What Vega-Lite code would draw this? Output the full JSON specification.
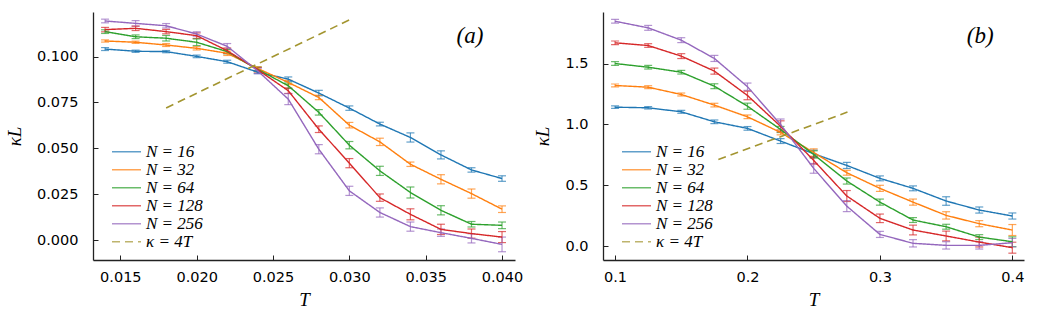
{
  "$schema": "https://vega.github.io/schema/vega-lite/v6.json",
  "padding": {"left": 5, "top": 12, "right": 2, "bottom": 5},
  "bounds": "flush",
  "spacing": 88,
  "config": {
    "view": {"stroke": null},
    "axis": {
      "grid": false,
      "domainColor": "#222222",
      "domainWidth": 1.3,
      "tickColor": "#222222",
      "tickSize": -5,
      "labelFont": "DejaVu Sans",
      "labelFontSize": 14.5,
      "labelColor": "#000000",
      "titleFont": "Liberation Serif",
      "titleFontStyle": "italic",
      "titleFontWeight": "normal",
      "titleFontSize": 19,
      "titleColor": "#000000"
    },
    "axisX": {"labelPadding": 15, "titlePadding": 7},
    "axisY": {"labelPadding": 20, "titlePadding": 12},
    "legend": {
      "orient": "none",
      "legendX": 18,
      "legendY": 131.5,
      "title": null,
      "padding": 0,
      "symbolType": "stroke",
      "symbolSize": 841,
      "symbolStrokeWidth": 1.5,
      "clipHeight": 16.3,
      "labelFont": "Liberation Serif",
      "labelFontStyle": "italic",
      "labelFontSize": 17,
      "labelColor": "#000000",
      "labelOffset": 4,
      "rowPadding": 0
    }
  },
  "resolve": {"scale": {"color": "independent", "strokeDash": "independent"}, "legend": {"color": "independent", "strokeDash": "independent"}},
  "datasets": {
    "a": [
      {"T": 0.014, "s": "N = 16", "k": 0.1041, "lo": 0.1033, "hi": 0.1049},
      {"T": 0.016, "s": "N = 16", "k": 0.1029, "lo": 0.1023, "hi": 0.1035},
      {"T": 0.018, "s": "N = 16", "k": 0.1027, "lo": 0.1021, "hi": 0.1033},
      {"T": 0.020, "s": "N = 16", "k": 0.1001, "lo": 0.0994, "hi": 0.1008},
      {"T": 0.022, "s": "N = 16", "k": 0.0972, "lo": 0.0964, "hi": 0.0980},
      {"T": 0.024, "s": "N = 16", "k": 0.0915, "lo": 0.0907, "hi": 0.0923},
      {"T": 0.026, "s": "N = 16", "k": 0.0877, "lo": 0.0865, "hi": 0.0889},
      {"T": 0.028, "s": "N = 16", "k": 0.0801, "lo": 0.0786, "hi": 0.0816},
      {"T": 0.030, "s": "N = 16", "k": 0.0719, "lo": 0.0707, "hi": 0.0731},
      {"T": 0.032, "s": "N = 16", "k": 0.0632, "lo": 0.0622, "hi": 0.0642},
      {"T": 0.034, "s": "N = 16", "k": 0.0559, "lo": 0.0534, "hi": 0.0584},
      {"T": 0.036, "s": "N = 16", "k": 0.0464, "lo": 0.0442, "hi": 0.0486},
      {"T": 0.038, "s": "N = 16", "k": 0.0382, "lo": 0.0370, "hi": 0.0394},
      {"T": 0.040, "s": "N = 16", "k": 0.0335, "lo": 0.0320, "hi": 0.0350},
      {"T": 0.014, "s": "N = 32", "k": 0.1085, "lo": 0.1079, "hi": 0.1091},
      {"T": 0.016, "s": "N = 32", "k": 0.1078, "lo": 0.1072, "hi": 0.1084},
      {"T": 0.018, "s": "N = 32", "k": 0.1063, "lo": 0.1055, "hi": 0.1071},
      {"T": 0.020, "s": "N = 32", "k": 0.1045, "lo": 0.1036, "hi": 0.1054},
      {"T": 0.022, "s": "N = 32", "k": 0.1018, "lo": 0.1006, "hi": 0.1030},
      {"T": 0.024, "s": "N = 32", "k": 0.0935, "lo": 0.0925, "hi": 0.0945},
      {"T": 0.026, "s": "N = 32", "k": 0.0859, "lo": 0.0847, "hi": 0.0871},
      {"T": 0.028, "s": "N = 32", "k": 0.0777, "lo": 0.0765, "hi": 0.0789},
      {"T": 0.030, "s": "N = 32", "k": 0.0626, "lo": 0.0611, "hi": 0.0641},
      {"T": 0.032, "s": "N = 32", "k": 0.0535, "lo": 0.0515, "hi": 0.0555},
      {"T": 0.034, "s": "N = 32", "k": 0.0413, "lo": 0.0401, "hi": 0.0425},
      {"T": 0.036, "s": "N = 32", "k": 0.0331, "lo": 0.0306, "hi": 0.0356},
      {"T": 0.038, "s": "N = 32", "k": 0.0253, "lo": 0.0228, "hi": 0.0278},
      {"T": 0.040, "s": "N = 32", "k": 0.0168, "lo": 0.0150, "hi": 0.0186},
      {"T": 0.014, "s": "N = 64", "k": 0.1136, "lo": 0.1126, "hi": 0.1146},
      {"T": 0.016, "s": "N = 64", "k": 0.1108, "lo": 0.1098, "hi": 0.1118},
      {"T": 0.018, "s": "N = 64", "k": 0.1100, "lo": 0.1085, "hi": 0.1115},
      {"T": 0.020, "s": "N = 64", "k": 0.1078, "lo": 0.1060, "hi": 0.1096},
      {"T": 0.022, "s": "N = 64", "k": 0.1027, "lo": 0.1015, "hi": 0.1039},
      {"T": 0.024, "s": "N = 64", "k": 0.0930, "lo": 0.0918, "hi": 0.0942},
      {"T": 0.026, "s": "N = 64", "k": 0.0841, "lo": 0.0826, "hi": 0.0856},
      {"T": 0.028, "s": "N = 64", "k": 0.0696, "lo": 0.0681, "hi": 0.0711},
      {"T": 0.030, "s": "N = 64", "k": 0.0517, "lo": 0.0497, "hi": 0.0537},
      {"T": 0.032, "s": "N = 64", "k": 0.0377, "lo": 0.0352, "hi": 0.0402},
      {"T": 0.034, "s": "N = 64", "k": 0.0259, "lo": 0.0229, "hi": 0.0289},
      {"T": 0.036, "s": "N = 64", "k": 0.0162, "lo": 0.0137, "hi": 0.0187},
      {"T": 0.038, "s": "N = 64", "k": 0.0086, "lo": 0.0071, "hi": 0.0101},
      {"T": 0.040, "s": "N = 64", "k": 0.0080, "lo": 0.0062, "hi": 0.0098},
      {"T": 0.014, "s": "N = 128", "k": 0.1147, "lo": 0.1135, "hi": 0.1159},
      {"T": 0.016, "s": "N = 128", "k": 0.1154, "lo": 0.1142, "hi": 0.1166},
      {"T": 0.018, "s": "N = 128", "k": 0.1136, "lo": 0.1124, "hi": 0.1148},
      {"T": 0.020, "s": "N = 128", "k": 0.1114, "lo": 0.1099, "hi": 0.1129},
      {"T": 0.022, "s": "N = 128", "k": 0.1032, "lo": 0.1017, "hi": 0.1047},
      {"T": 0.024, "s": "N = 128", "k": 0.0928, "lo": 0.0916, "hi": 0.0940},
      {"T": 0.026, "s": "N = 128", "k": 0.0814, "lo": 0.0799, "hi": 0.0829},
      {"T": 0.028, "s": "N = 128", "k": 0.0604, "lo": 0.0586, "hi": 0.0622},
      {"T": 0.030, "s": "N = 128", "k": 0.0419, "lo": 0.0394, "hi": 0.0444},
      {"T": 0.032, "s": "N = 128", "k": 0.0231, "lo": 0.0211, "hi": 0.0251},
      {"T": 0.034, "s": "N = 128", "k": 0.0140, "lo": 0.0110, "hi": 0.0170},
      {"T": 0.036, "s": "N = 128", "k": 0.0058, "lo": 0.0030, "hi": 0.0086},
      {"T": 0.038, "s": "N = 128", "k": 0.0035, "lo": 0.0010, "hi": 0.0060},
      {"T": 0.040, "s": "N = 128", "k": 0.0016, "lo": -0.0014, "hi": 0.0046},
      {"T": 0.014, "s": "N = 256", "k": 0.1194, "lo": 0.1184, "hi": 0.1204},
      {"T": 0.016, "s": "N = 256", "k": 0.1181, "lo": 0.1166, "hi": 0.1196},
      {"T": 0.018, "s": "N = 256", "k": 0.1168, "lo": 0.1156, "hi": 0.1180},
      {"T": 0.020, "s": "N = 256", "k": 0.1123, "lo": 0.1111, "hi": 0.1135},
      {"T": 0.022, "s": "N = 256", "k": 0.1056, "lo": 0.1041, "hi": 0.1071},
      {"T": 0.024, "s": "N = 256", "k": 0.0922, "lo": 0.0907, "hi": 0.0937},
      {"T": 0.026, "s": "N = 256", "k": 0.0768, "lo": 0.0738, "hi": 0.0798},
      {"T": 0.028, "s": "N = 256", "k": 0.0495, "lo": 0.0470, "hi": 0.0520},
      {"T": 0.030, "s": "N = 256", "k": 0.0268, "lo": 0.0243, "hi": 0.0293},
      {"T": 0.032, "s": "N = 256", "k": 0.0150, "lo": 0.0125, "hi": 0.0175},
      {"T": 0.034, "s": "N = 256", "k": 0.0073, "lo": 0.0048, "hi": 0.0098},
      {"T": 0.036, "s": "N = 256", "k": 0.0040, "lo": 0.0020, "hi": 0.0060},
      {"T": 0.038, "s": "N = 256", "k": 0.0009, "lo": -0.0016, "hi": 0.0034},
      {"T": 0.040, "s": "N = 256", "k": -0.0024, "lo": -0.0064, "hi": 0.0016}
    ],
    "b": [
      {"T": 0.100, "s": "N = 16", "k": 1.142, "lo": 1.132, "hi": 1.152},
      {"T": 0.125, "s": "N = 16", "k": 1.137, "lo": 1.127, "hi": 1.147},
      {"T": 0.150, "s": "N = 16", "k": 1.104, "lo": 1.092, "hi": 1.116},
      {"T": 0.175, "s": "N = 16", "k": 1.022, "lo": 1.007, "hi": 1.037},
      {"T": 0.200, "s": "N = 16", "k": 0.968, "lo": 0.953, "hi": 0.983},
      {"T": 0.225, "s": "N = 16", "k": 0.864, "lo": 0.844, "hi": 0.884},
      {"T": 0.250, "s": "N = 16", "k": 0.760, "lo": 0.730, "hi": 0.790},
      {"T": 0.275, "s": "N = 16", "k": 0.664, "lo": 0.639, "hi": 0.689},
      {"T": 0.300, "s": "N = 16", "k": 0.558, "lo": 0.538, "hi": 0.578},
      {"T": 0.325, "s": "N = 16", "k": 0.476, "lo": 0.456, "hi": 0.496},
      {"T": 0.350, "s": "N = 16", "k": 0.372, "lo": 0.337, "hi": 0.407},
      {"T": 0.375, "s": "N = 16", "k": 0.298, "lo": 0.273, "hi": 0.323},
      {"T": 0.400, "s": "N = 16", "k": 0.249, "lo": 0.224, "hi": 0.274},
      {"T": 0.100, "s": "N = 32", "k": 1.320, "lo": 1.308, "hi": 1.332},
      {"T": 0.125, "s": "N = 32", "k": 1.306, "lo": 1.294, "hi": 1.318},
      {"T": 0.150, "s": "N = 32", "k": 1.246, "lo": 1.234, "hi": 1.258},
      {"T": 0.175, "s": "N = 32", "k": 1.159, "lo": 1.144, "hi": 1.174},
      {"T": 0.200, "s": "N = 32", "k": 1.063, "lo": 1.048, "hi": 1.078},
      {"T": 0.225, "s": "N = 32", "k": 0.935, "lo": 0.915, "hi": 0.955},
      {"T": 0.250, "s": "N = 32", "k": 0.770, "lo": 0.740, "hi": 0.800},
      {"T": 0.275, "s": "N = 32", "k": 0.604, "lo": 0.584, "hi": 0.624},
      {"T": 0.300, "s": "N = 32", "k": 0.476, "lo": 0.451, "hi": 0.501},
      {"T": 0.325, "s": "N = 32", "k": 0.363, "lo": 0.338, "hi": 0.388},
      {"T": 0.350, "s": "N = 32", "k": 0.254, "lo": 0.224, "hi": 0.284},
      {"T": 0.375, "s": "N = 32", "k": 0.186, "lo": 0.161, "hi": 0.211},
      {"T": 0.400, "s": "N = 32", "k": 0.134, "lo": 0.089, "hi": 0.179},
      {"T": 0.100, "s": "N = 64", "k": 1.500, "lo": 1.485, "hi": 1.515},
      {"T": 0.125, "s": "N = 64", "k": 1.470, "lo": 1.455, "hi": 1.485},
      {"T": 0.150, "s": "N = 64", "k": 1.429, "lo": 1.414, "hi": 1.444},
      {"T": 0.175, "s": "N = 64", "k": 1.314, "lo": 1.294, "hi": 1.334},
      {"T": 0.200, "s": "N = 64", "k": 1.150, "lo": 1.125, "hi": 1.175},
      {"T": 0.225, "s": "N = 64", "k": 0.959, "lo": 0.934, "hi": 0.984},
      {"T": 0.250, "s": "N = 64", "k": 0.754, "lo": 0.724, "hi": 0.784},
      {"T": 0.275, "s": "N = 64", "k": 0.536, "lo": 0.511, "hi": 0.561},
      {"T": 0.300, "s": "N = 64", "k": 0.363, "lo": 0.338, "hi": 0.388},
      {"T": 0.325, "s": "N = 64", "k": 0.216, "lo": 0.196, "hi": 0.236},
      {"T": 0.350, "s": "N = 64", "k": 0.161, "lo": 0.141, "hi": 0.181},
      {"T": 0.375, "s": "N = 64", "k": 0.076, "lo": 0.056, "hi": 0.096},
      {"T": 0.400, "s": "N = 64", "k": 0.038, "lo": -0.002, "hi": 0.078},
      {"T": 0.100, "s": "N = 128", "k": 1.670, "lo": 1.655, "hi": 1.685},
      {"T": 0.125, "s": "N = 128", "k": 1.648, "lo": 1.633, "hi": 1.663},
      {"T": 0.150, "s": "N = 128", "k": 1.561, "lo": 1.541, "hi": 1.581},
      {"T": 0.175, "s": "N = 128", "k": 1.438, "lo": 1.413, "hi": 1.463},
      {"T": 0.200, "s": "N = 128", "k": 1.238, "lo": 1.203, "hi": 1.273},
      {"T": 0.225, "s": "N = 128", "k": 0.985, "lo": 0.940, "hi": 1.030},
      {"T": 0.250, "s": "N = 128", "k": 0.705, "lo": 0.675, "hi": 0.735},
      {"T": 0.275, "s": "N = 128", "k": 0.413, "lo": 0.368, "hi": 0.458},
      {"T": 0.300, "s": "N = 128", "k": 0.230, "lo": 0.195, "hi": 0.265},
      {"T": 0.325, "s": "N = 128", "k": 0.134, "lo": 0.094, "hi": 0.174},
      {"T": 0.350, "s": "N = 128", "k": 0.085, "lo": 0.045, "hi": 0.125},
      {"T": 0.375, "s": "N = 128", "k": 0.035, "lo": -0.005, "hi": 0.075},
      {"T": 0.400, "s": "N = 128", "k": -0.011, "lo": -0.056, "hi": 0.034},
      {"T": 0.100, "s": "N = 256", "k": 1.847, "lo": 1.832, "hi": 1.862},
      {"T": 0.125, "s": "N = 256", "k": 1.793, "lo": 1.773, "hi": 1.813},
      {"T": 0.150, "s": "N = 256", "k": 1.692, "lo": 1.672, "hi": 1.712},
      {"T": 0.175, "s": "N = 256", "k": 1.542, "lo": 1.517, "hi": 1.567},
      {"T": 0.200, "s": "N = 256", "k": 1.310, "lo": 1.280, "hi": 1.340},
      {"T": 0.225, "s": "N = 256", "k": 1.000, "lo": 0.955, "hi": 1.045},
      {"T": 0.250, "s": "N = 256", "k": 0.640, "lo": 0.600, "hi": 0.680},
      {"T": 0.275, "s": "N = 256", "k": 0.330, "lo": 0.285, "hi": 0.375},
      {"T": 0.300, "s": "N = 256", "k": 0.098, "lo": 0.073, "hi": 0.123},
      {"T": 0.325, "s": "N = 256", "k": 0.025, "lo": -0.005, "hi": 0.055},
      {"T": 0.350, "s": "N = 256", "k": 0.008, "lo": -0.022, "hi": 0.038},
      {"T": 0.375, "s": "N = 256", "k": 0.008, "lo": -0.022, "hi": 0.038},
      {"T": 0.400, "s": "N = 256", "k": 0.030, "lo": -0.005, "hi": 0.065}
    ],
    "la": [
      {"T": 0.018, "k": 0.072, "s": "κ = 4T"},
      {"T": 0.030, "k": 0.120, "s": "κ = 4T"}
    ],
    "lb": [
      {"T": 0.178, "k": 0.712, "s": "κ = 4T"},
      {"T": 0.2755, "k": 1.102, "s": "κ = 4T"}
    ],
    "ta": [{"T": 0.0379, "k": 0.1112, "lab": "(a)"}],
    "tb": [{"T": 0.3757, "k": 1.726, "lab": "(b)"}]
  },
  "hconcat": [
    {
      "width": 422,
      "height": 248,
      "encoding": {
        "x": {"field": "T", "type": "quantitative", "title": "T",
              "scale": {"domain": [0.01321, 0.04085], "nice": false, "zero": false},
              "axis": {"values": [0.015, 0.02, 0.025, 0.03, 0.035, 0.04], "format": ".3f"}},
        "y": {"field": "k", "type": "quantitative", "title": "κL",
              "scale": {"domain": [-0.0109, 0.1243], "nice": false, "zero": false},
              "axis": {"values": [0, 0.025, 0.05, 0.075, 0.1], "format": ".3f"}}
      },
      "layer": [
        {
          "data": {"name": "a"},
          "mark": {"type": "errorbar", "ticks": true, "size": 8, "thickness": 1.2, "opacity": 0.7},
          "encoding": {
            "y": {"field": "lo", "type": "quantitative", "title": "κL"},
            "y2": {"field": "hi"},
            "color": {"field": "s", "type": "nominal", "sort": null,
                      "scale": {"domain": ["N = 16", "N = 32", "N = 64", "N = 128", "N = 256", "κ = 4T"], "range": ["#1f77b4", "#ff7f0e", "#2ca02c", "#d62728", "#9467bd", "#a39530"]}}
          }
        },
        {
          "data": {"name": "a"},
          "mark": {"type": "line", "strokeWidth": 1.4},
          "encoding": {
            "color": {"field": "s", "type": "nominal", "sort": null},
            "strokeDash": {"field": "s", "type": "nominal", "sort": null,
                           "scale": {"domain": ["N = 16", "N = 32", "N = 64", "N = 128", "N = 256", "κ = 4T"], "range": [[1, 0], [1, 0], [1, 0], [1, 0], [1, 0], [8, 5]]}}
          }
        },
        {
          "data": {"name": "la"},
          "mark": {"type": "line", "strokeWidth": 1.6},
          "encoding": {
            "color": {"field": "s", "type": "nominal", "sort": null},
            "strokeDash": {"field": "s", "type": "nominal", "sort": null}
          }
        },
        {
          "data": {"name": "ta"},
          "mark": {"type": "text", "font": "Liberation Serif", "fontStyle": "italic", "fontSize": 23, "align": "center", "baseline": "middle", "color": "#000000"},
          "encoding": {"text": {"field": "lab"}}
        }
      ]
    },
    {
      "width": 421,
      "height": 248,
      "encoding": {
        "x": {"field": "T", "type": "quantitative", "title": "T",
              "scale": {"domain": [0.0909, 0.4088], "nice": false, "zero": false},
              "axis": {"values": [0.1, 0.2, 0.3, 0.4], "format": ".1f"}},
        "y": {"field": "k", "type": "quantitative", "title": "κL",
              "scale": {"domain": [-0.112, 1.923], "nice": false, "zero": false},
              "axis": {"values": [0, 0.5, 1, 1.5], "format": ".1f"}}
      },
      "layer": [
        {
          "data": {"name": "b"},
          "mark": {"type": "errorbar", "ticks": true, "size": 8, "thickness": 1.2, "opacity": 0.7},
          "encoding": {
            "y": {"field": "lo", "type": "quantitative", "title": "κL"},
            "y2": {"field": "hi"},
            "color": {"field": "s", "type": "nominal", "sort": null,
                      "scale": {"domain": ["N = 16", "N = 32", "N = 64", "N = 128", "N = 256", "κ = 4T"], "range": ["#1f77b4", "#ff7f0e", "#2ca02c", "#d62728", "#9467bd", "#a39530"]}}
          }
        },
        {
          "data": {"name": "b"},
          "mark": {"type": "line", "strokeWidth": 1.4},
          "encoding": {
            "color": {"field": "s", "type": "nominal", "sort": null},
            "strokeDash": {"field": "s", "type": "nominal", "sort": null,
                           "scale": {"domain": ["N = 16", "N = 32", "N = 64", "N = 128", "N = 256", "κ = 4T"], "range": [[1, 0], [1, 0], [1, 0], [1, 0], [1, 0], [8, 5]]}}
          }
        },
        {
          "data": {"name": "lb"},
          "mark": {"type": "line", "strokeWidth": 1.6},
          "encoding": {
            "color": {"field": "s", "type": "nominal", "sort": null},
            "strokeDash": {"field": "s", "type": "nominal", "sort": null}
          }
        },
        {
          "data": {"name": "tb"},
          "mark": {"type": "text", "font": "Liberation Serif", "fontStyle": "italic", "fontSize": 23, "align": "center", "baseline": "middle", "color": "#000000"},
          "encoding": {"text": {"field": "lab"}}
        }
      ]
    }
  ]
}
